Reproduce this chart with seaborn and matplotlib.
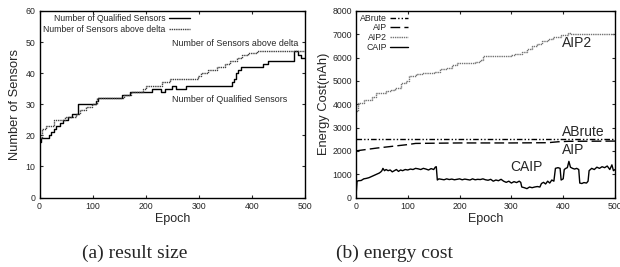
import matplotlib
matplotlib.use("Agg")
import matplotlib.pyplot as plt
import seaborn as sns
import pandas as pd

# ---- data ----
qual_x = [0, 3, 18, 22, 27, 32, 38, 45, 53, 62, 72, 106, 110, 150, 155, 170, 212, 228, 236, 250, 258, 265, 275, 362, 366, 370, 374, 380, 420, 430, 475, 480, 487, 492, 500]
qual_y = [18, 19, 20, 21, 22, 23, 24, 25, 26, 27, 30, 31, 32, 32, 33, 34, 35, 34, 35, 36, 35, 35, 36, 37, 38, 40, 41, 42, 43, 44, 44, 47, 46, 45, 45]

delta_x = [0, 4, 12, 28, 48, 68, 76, 88, 98, 108, 150, 160, 172, 195, 200, 230, 245, 298, 305, 318, 335, 350, 358, 372, 382, 392, 410, 500]
delta_y = [19, 22, 23, 25, 26, 27, 28, 29, 30, 32, 32, 33, 34, 35, 36, 37, 38, 39, 40, 41, 42, 43, 44, 45, 46, 46.5, 47, 47]

aip2_x = [0, 3, 15, 30, 38, 58, 68, 76, 86, 96, 102, 115, 128, 150, 162, 175, 185, 195, 230, 240, 246, 300, 306, 320, 330, 340, 350, 360, 370, 380, 395, 410, 416, 470, 500]
aip2_y = [3700, 4050, 4200, 4300, 4480, 4550, 4620, 4700, 4900, 5000, 5200, 5300, 5350, 5400, 5500, 5550, 5700, 5750, 5800, 5900, 6050, 6100, 6150, 6250, 6350, 6500, 6600, 6700, 6800, 6900, 6950, 7050, 7000, 7000, 7000]

abrute_x = [0, 500]
abrute_y = [2500, 2500]

aip_x = [0, 20, 40, 60, 80, 100, 115, 200, 300, 370, 390, 410, 500]
aip_y = [2000, 2060, 2120, 2170, 2220, 2270, 2320, 2340, 2340, 2350, 2390, 2410, 2420]

caip_x = [0, 2, 5, 10, 15, 20, 25, 30, 35, 40, 45, 48, 50, 52, 55, 58, 62, 66, 70, 74, 78, 82, 86, 90, 95, 100, 105, 110, 115, 120, 125, 130, 135, 140, 145, 150, 153, 155,
          157, 160, 165, 170, 175, 180, 185, 190, 195, 200, 205, 210, 215, 220, 225, 230, 235, 240, 245, 250, 255, 260, 265, 270, 275, 280, 285, 290, 295, 300, 305, 310, 315, 318,
          320, 325, 330, 335, 340, 345, 350, 355, 358, 362, 366, 370, 374, 378, 382, 385, 390, 394, 396, 400, 402, 405, 408, 411, 414, 418, 422, 426, 430, 432, 436, 440, 445, 448,
          450, 455, 460, 465, 470, 475, 480, 485, 490, 494, 497, 500]
caip_y = [50, 700, 720, 730, 800, 820, 850, 900, 950, 1000, 1050, 1100, 1150, 1250, 1150, 1200, 1150, 1180, 1100, 1150, 1200, 1120, 1180, 1150, 1200, 1180, 1220, 1200, 1250, 1230, 1200, 1250, 1220, 1180, 1240, 1200, 1300, 1320,
          750, 800, 780, 760, 800, 770, 790, 760, 780, 800, 760, 790, 770, 750, 800, 760, 780, 770, 800, 760, 740, 780, 700, 750, 720, 780, 700, 650, 700, 620, 680, 640, 700, 650,
          450, 420, 380, 450, 420, 450, 470, 450, 600, 650, 580, 700, 620, 750, 700, 1250, 1280, 1250, 750, 800, 1200, 1250, 1280, 1550, 1300, 1250, 1220, 1250, 1200, 620, 600, 640, 620, 700,
          1150, 1250, 1200, 1300, 1250, 1320, 1280, 1350, 1200, 1400, 1150, 1200]

left_xticks = [0, 100, 200, 300, 400, 500]
left_yticks = [0, 10, 20, 30, 40, 50, 60]
right_yticks = [0, 1000, 2000, 3000, 4000, 5000, 6000, 7000, 8000]

sns.set_style("ticks")
plt.rcParams['font.family'] = ['Liberation Sans', 'DejaVu Sans']

fig = plt.figure(figsize=(6.2, 2.67), dpi=100)
W, H = 620, 267
def axrect(x0, x1, ytop, ybot):
    return [x0 / W, 1 - ybot / H, (x1 - x0) / W, (ybot - ytop) / H]

ax1 = fig.add_axes(axrect(39.5, 305, 11, 197.5))
ax2 = fig.add_axes(axrect(356, 615, 11, 197.5))

lw = 1.0
def step(ax, xs, ys, label, **kw):
    df = pd.DataFrame({"x": xs, "y": ys})
    sns.lineplot(data=df, x="x", y="y", ax=ax, estimator=None, sort=False,
                 drawstyle="steps-post", label=label, lw=lw, **kw)

step(ax1, qual_x, qual_y, "Number of Qualified Sensors", color="black")
step(ax1, delta_x, delta_y, "Number of Sensors above delta", color="0.25", linestyle=(0, (1, 0.6)))

step(ax2, abrute_x, abrute_y, "ABrute", color="black", linestyle=(0, (4, 1.5, 1, 1.5, 1, 1.5)))
sns.lineplot(data=pd.DataFrame({"x": aip_x, "y": aip_y}), x="x", y="y", ax=ax2,
             estimator=None, label="AIP", color="black", lw=lw, linestyle=(0, (7, 3)))
step(ax2, aip2_x, aip2_y, "AIP2", color="0.45", linestyle=(0, (1, 0.6)))
sns.lineplot(data=pd.DataFrame({"x": caip_x, "y": caip_y}), x="x", y="y", ax=ax2,
             estimator=None, label="CAIP", color="black", lw=lw)

for ax in (ax1, ax2):
    ax.set_xlim(0, 500)
    ax.set_xticks(left_xticks)
    ax.tick_params(direction="in", length=2.5, width=0.8, labelsize=6.3, top=True, right=True, pad=3)
    for s in ax.spines.values():
        s.set_linewidth(1.0)
        s.set_color("black")
    ax.set_xlabel("Epoch", fontsize=9, labelpad=1.5)

ax1.set_ylim(0, 60)
ax1.set_yticks(left_yticks)
ax1.set_ylabel("Number of Sensors", fontsize=9.3, labelpad=3)
ax2.set_ylim(0, 8000)
ax2.set_yticks(right_yticks)
ax2.set_ylabel("Energy Cost(nAh)", fontsize=9.3, labelpad=1.5)

ax1.legend(loc="upper right", bbox_to_anchor=(0.575, 1.0), frameon=False, markerfirst=False,
           fontsize=6.2, handlelength=2.4, labelspacing=0.25, borderpad=0.3, borderaxespad=0, handletextpad=0.4)
ax2.legend(loc="upper right", bbox_to_anchor=(0.21, 1.0), frameon=False, markerfirst=False,
           fontsize=6.3, handlelength=2.0, labelspacing=0.1, borderpad=0.3, borderaxespad=0, handletextpad=0.4)

ax1.text(249, 49.7, "Number of Sensors above delta", fontsize=6.4, va="center", ha="left")
ax1.text(249, 31.6, "Number of Qualified Sensors", fontsize=6.4, va="center", ha="left")

ax2.text(397, 6640, "AIP2", fontsize=10, va="center", ha="left")
ax2.text(397, 2810, "ABrute", fontsize=10, va="center", ha="left")
ax2.text(397, 2055, "AIP", fontsize=10, va="center", ha="left")
ax2.text(298, 1316, "CAIP", fontsize=10, va="center", ha="left")

fig.text(135 / W, 1 - 253 / H, "(a) result size", family=["Liberation Serif"], fontsize=14, ha="center", va="center")
fig.text(395 / W, 1 - 253 / H, "(b) energy cost", family=["Liberation Serif"], fontsize=14, ha="center", va="center")

fig.savefig("out.png", dpi=100)
